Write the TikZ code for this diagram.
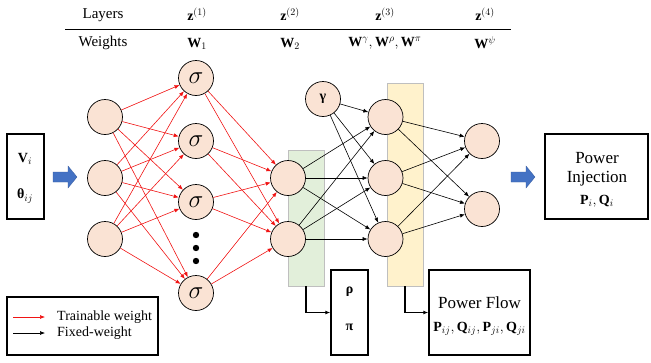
\documentclass[tikz,border=0pt]{standalone}
\usepackage{amsmath}
\usepackage{fontspec}
\setmainfont{Liberation Serif}
\usetikzlibrary{arrows.meta}
\definecolor{nodefill}{RGB}{250,227,212}
\definecolor{greenbg}{RGB}{226,239,218}
\definecolor{yellowbg}{RGB}{255,242,204}
\definecolor{bluearrow}{RGB}{68,114,196}
\definecolor{tred}{RGB}{240,20,20}
\tikzset{
  neuron/.style={circle,draw=black,line width=0.7pt,fill=nodefill,minimum size=35pt,inner sep=0pt},
  boxnode/.style={draw=black,line width=1.4pt,rectangle,inner sep=0pt},
  txt/.style={inner sep=0pt,font=\fontsize{14}{16}\selectfont},
  redarrow/.style={draw=tred,line width=0.6pt,-{Latex[length=5pt,width=4pt]}},
  blackarrow/.style={draw=black,line width=0.6pt,-{Latex[length=5pt,width=4pt]}},
  bluearr/.style={fill=bluearrow,draw=bluearrow!80!black,line width=0.3pt}
}
\begin{document}
\begin{tikzpicture}[x=1pt,y=-1pt]
\useasboundingbox (0,0) rectangle (651,362);
% header table
\node[txt,font=\fontsize{15}{17}\selectfont] (hl) at (103,15) {Layers};
\node[txt] (hz1) at (197,14) {$\mathbf{z}^{(1)}$};
\node[txt] (hz2) at (290,14) {$\mathbf{z}^{(2)}$};
\node[txt] (hz3) at (385,14) {$\mathbf{z}^{(3)}$};
\node[txt] (hz4) at (485,14) {$\mathbf{z}^{(4)}$};
\coordinate (rl) at (65,29);
\coordinate (rr) at (511,29);
\draw[line width=0.9pt] (rl) -- (rr);
\node[txt,font=\fontsize{15}{17}\selectfont] (hw) at (103,43) {Weights};
\node[txt] (hw1) at (197,44) {$\mathbf{W}_{1}$};
\node[txt] (hw2) at (290,44) {$\mathbf{W}_{2}$};
\node[txt] (hw3) at (385,43) {$\mathbf{W}^{\gamma},\mathbf{W}^{\rho},\mathbf{W}^{\pi}$};
\node[txt] (hw4) at (485,43) {$\mathbf{W}^{\psi}$};
% background rectangles
\fill[greenbg,draw=black!25,line width=0.6pt] (288,150) rectangle (324,286);
\fill[yellowbg,draw=black!25,line width=0.6pt] (387,83) rectangle (423,286);
\coordinate (gb) at (306,286);
\coordinate (yb) at (405,286);
% input box
\node[boxnode,minimum width=37pt,minimum height=85pt] (inbox) at (25.5,176.5) {};
\node[txt] (vi) at (25,159) {$\mathbf{V}_{i}$};
\node[txt] (th) at (25,196) {\textbf{θ}$_{ij}$};
% blue arrows
\fill[bluearr] (53,172) -- (68,172) -- (68,166) -- (77,177) -- (68,188) -- (68,182) -- (53,182) -- cycle;
\fill[bluearr] (511,172) -- (526,172) -- (526,166) -- (535,177) -- (526,188) -- (526,182) -- (511,182) -- cycle;
% neurons
\node[neuron] (in1) at (105,117) {};
\node[neuron] (in2) at (105,178) {};
\node[neuron] (in3) at (105,239) {};
\node[neuron] (s1) at (196,78) {\fontsize{29}{29}\selectfont$\sigma$};
\node[neuron] (s2) at (196,141) {\fontsize{29}{29}\selectfont$\sigma$};
\node[neuron] (s3) at (196,202) {\fontsize{29}{29}\selectfont$\sigma$};
\node[neuron] (s4) at (196,293) {\fontsize{29}{29}\selectfont$\sigma$};
\fill (196,235) circle (3.2pt);
\fill (196,248) circle (3.2pt);
\fill (196,261) circle (3.2pt);
\node[neuron] (h1) at (288,178) {};
\node[neuron] (h2) at (288,239) {};
\node[neuron] (g) at (323,99) {\fontsize{14}{14}\selectfont\textbf{γ}};
\node[neuron] (k1) at (385.5,117) {};
\node[neuron] (k2) at (385.5,178) {};
\node[neuron] (k3) at (385.5,239) {};
\node[neuron] (o1) at (482,141) {};
\node[neuron] (o2) at (482,209) {};
% trainable connections
\foreach \a in {in1,in2,in3}{
  \foreach \b in {s1,s2,s3,s4}{
    \draw[redarrow] (\a) -- (\b);
  }
}
\foreach \a in {s1,s2,s3,s4}{
  \foreach \b in {h1,h2}{
    \draw[redarrow] (\a) -- (\b);
  }
}
% fixed connections
\foreach \a in {g,h1,h2}{
  \foreach \b in {k1,k2,k3}{
    \draw[blackarrow] (\a) -- (\b);
  }
}
\foreach \a in {k1,k2,k3}{
  \foreach \b in {o1,o2}{
    \draw[blackarrow] (\a) -- (\b);
  }
}
% output boxes
\node[boxnode,minimum width=103pt,minimum height=85pt] (pinj) at (596.5,176.5) {};
\node[txt,font=\fontsize{17}{19}\selectfont] (pinj1) at (597,158) {Power};
\node[txt,font=\fontsize{17}{19}\selectfont] (pinj2) at (597,179) {Injection};
\node[txt] (pinj3) at (597,201) {$\mathbf{P}_{i},\mathbf{Q}_{i}$};
\node[boxnode,minimum width=37pt,minimum height=85pt] (rp) at (349.5,312.5) {};
\node[txt] (rho) at (349.5,292) {\textbf{ρ}};
\node[txt] (pi) at (349.5,327) {\textbf{π}};
\node[boxnode,minimum width=101pt,minimum height=85pt] (pf) at (479.5,312.5) {};
\node[txt,font=\fontsize{17}{19}\selectfont] (pf1) at (479.5,303) {Power Flow};
\node[txt] (pf2) at (479.5,329) {$\mathbf{P}_{ij},\mathbf{Q}_{ij},\mathbf{P}_{ji},\mathbf{Q}_{ji}$};
\draw[line width=1.2pt,-{Latex[length=5pt,width=4pt]}] (gb) |- (rp.west);
\draw[line width=1.2pt,-{Latex[length=5pt,width=4pt]}] (yb) |- (pf.west);
% legend
\node[boxnode,minimum width=151pt,minimum height=58pt] (leg) at (82.5,326) {};
\coordinate (la1) at (13,317);
\coordinate (la2) at (45,317);
\coordinate (lb1) at (13,333);
\coordinate (lb2) at (45,333);
\draw[redarrow] (la1) -- (la2);
\draw[blackarrow] (lb1) -- (lb2);
\node[txt,anchor=west] (lt1) at (57,317) {Trainable weight};
\node[txt,anchor=west] (lt2) at (57,333) {Fixed-weight};
\end{tikzpicture}
\end{document}
